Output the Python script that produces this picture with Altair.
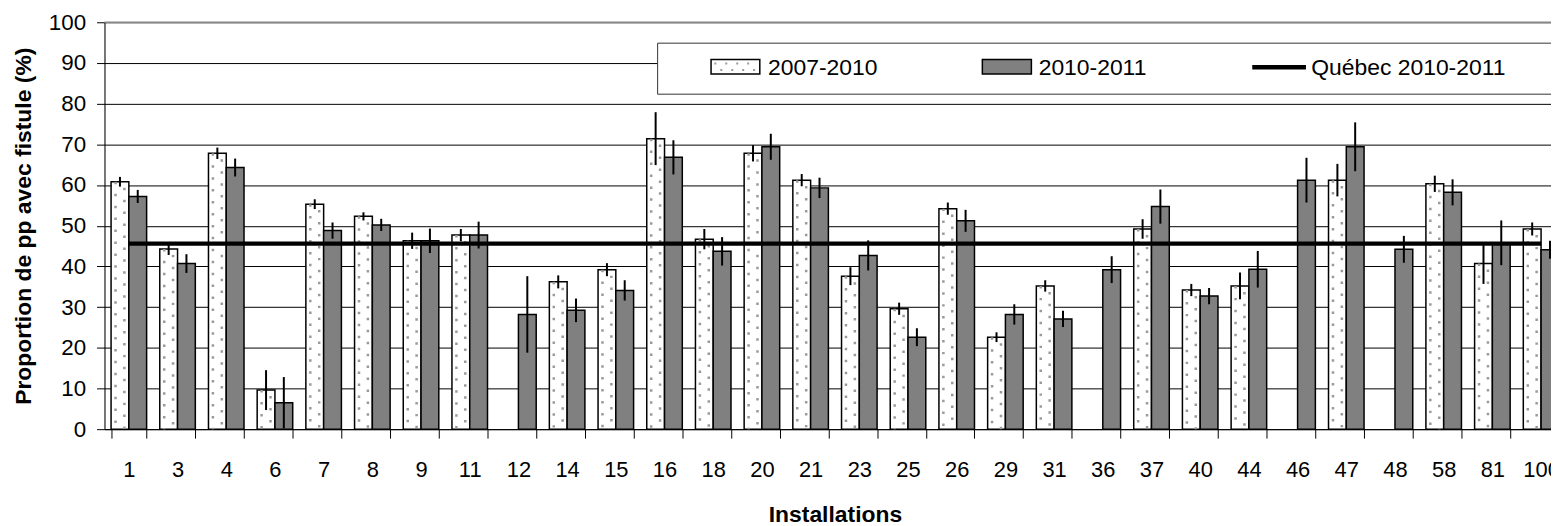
import altair as alt
import pandas as pd

CATS = ["1", "3", "4", "6", "7", "8", "9", "11", "12", "14", "15", "16", "18", "20", "21",
        "23", "25", "26", "29", "31", "36", "37", "40", "44", "46", "47", "48", "58", "81", "100"]
SERIES = ["2007-2010", "2010-2011"]

V0710 = [60.8, 44.3, 67.8, 9.6, 55.3, 52.3, 46.3, 47.7, None, 36.2, 39.2, 71.4, 46.7, 67.8, 61.2,
         37.6, 29.6, 54.2, 22.6, 35.2, None, 49.2, 34.2, 35.2, None, 61.2, None, 60.3, 40.7, 49.2]
E0710 = [1.2, 1.5, 1.4, 4.9, 1.2, 1.0, 2.0, 1.5, None, 1.6, 1.6, 6.5, 2.5, 2.0, 1.5,
         2.2, 1.5, 1.5, 1.2, 1.4, None, 2.4, 1.5, 3.3, None, 4.0, None, 2.0, 5.0, 1.6]
V1011 = [57.2, 40.7, 64.3, 6.5, 48.8, 50.2, 46.3, 47.7, 28.2, 29.2, 34.1, 66.8, 43.7, 69.4, 59.3,
         42.7, 22.6, 51.2, 28.2, 27.1, 39.2, 54.7, 32.7, 39.3, 61.2, 69.4, 44.2, 58.2, 45.8, 44.1]
E1011 = [1.6, 2.3, 2.2, 6.3, 2.0, 1.5, 3.0, 3.3, 9.4, 2.9, 2.5, 4.2, 3.5, 3.2, 2.5,
         3.7, 2.2, 2.7, 2.5, 2.0, 3.3, 4.2, 2.0, 4.5, 5.5, 6.0, 3.3, 3.2, 5.5, 2.2]
QUEBEC = 45.6

rows = []
for i, c in enumerate(CATS):
    for s, vals, errs in [(SERIES[0], V0710, E0710), (SERIES[1], V1011, E1011)]:
        if vals[i] is None:
            continue
        rows.append(dict(cat=c, series=s, value=vals[i], lo=vals[i] - errs[i], hi=vals[i] + errs[i]))
df = pd.DataFrame(rows)
df07 = df[df.series == SERIES[0]]
qdf = pd.DataFrame({"cat": CATS, "value": [QUEBEC] * len(CATS)})
one = pd.DataFrame({"k": [0]})

FONT = "Liberation Sans"
W, H = 1454, 409      # visible plot area
XR = 1468.5           # full extent of the category axis (runs past the page edge)

xscale = alt.Scale(domain=CATS, range=[0, XR], paddingInner=0.27, paddingOuter=0.135)
xaxis = alt.Axis(title="Installations", labelAngle=0, tickBand="extent", tickSize=9,
                 tickColor="black", domainColor="black", labelFont=FONT, labelFontSize=22,
                 labelColor="black", labelBaseline="alphabetic", labelPadding=39,
                 titleFont=FONT, titleFontSize=23, titleFontWeight="bold", titleColor="black",
                 titleX=XR / 2, titleY=93, titleBaseline="alphabetic", grid=False)
yscale = alt.Scale(domain=[0, 100], nice=False)
yaxis = alt.Axis(title="Proportion de pp avec fistule (%)", values=list(range(0, 101, 10)),
                 tickSize=8, tickColor="black", domainColor="black", labelFont=FONT,
                 labelFontSize=22.5, labelColor="black", labelPadding=11,
                 gridColor="black", gridWidth=1, gridOpacity=1,
                 titleFont=FONT, titleFontSize=23, titleFontWeight="bold", titleColor="black",
                 titleX=-74, titleY=H / 2, titleAngle=-90, titleBaseline="alphabetic")


def X(bp=None):
    if bp is None:
        return alt.X("cat:N", sort=CATS, scale=xscale, axis=xaxis)
    return alt.X("cat:N", sort=CATS, scale=xscale, axis=xaxis, bandPosition=bp)


xoff = alt.XOffset("series:N", scale=alt.Scale(domain=SERIES, paddingInner=0, paddingOuter=0))

bars = alt.Chart(df).mark_bar(stroke="black", strokeWidth=1.5).encode(
    x=X(), xOffset=xoff,
    y=alt.Y("value:Q", scale=yscale, axis=yaxis),
    color=alt.Color("series:N", scale=alt.Scale(domain=SERIES, range=["white", "#808080"]), legend=None),
)

dots1 = alt.Chart(df07).mark_rule(color="#9a9a9a", strokeWidth=2.5, strokeDash=[2.5, 9.5], strokeCap="butt").encode(
    x=X(0.125), y=alt.Y("value:Q", scale=yscale, axis=yaxis), y2=alt.datum(0))
dots2 = alt.Chart(df07).mark_rule(color="#9a9a9a", strokeWidth=2.5, strokeDash=[2.5, 9.5],
                                  strokeDashOffset=6, strokeCap="butt").encode(
    x=X(0.375), y=alt.Y("value:Q", scale=yscale, axis=yaxis), y2=alt.datum(0))

err = alt.Chart(df).mark_rule(color="black", strokeWidth=2).encode(
    x=X(), xOffset=xoff, y=alt.Y("lo:Q", scale=yscale, axis=yaxis), y2="hi:Q")

qline = alt.Chart(qdf).mark_line(color="black", strokeWidth=4.5).encode(
    x=X(), y=alt.Y("value:Q", scale=yscale, axis=yaxis))

top = alt.Chart(one).mark_rule(color="#888888", strokeWidth=1.5).encode(
    y=alt.datum(100), x=alt.value(0), x2=alt.value(XR))

box = alt.Chart(one).mark_rect(fill="white", stroke="#333333", strokeWidth=1).encode(
    x=alt.value(556), x2=alt.value(XR + 20), y=alt.value(21), y2=alt.value(72.3))

sym1 = alt.Chart(one).mark_rect(fill="white", stroke="black", strokeWidth=1.5).encode(
    x=alt.value(609.7), x2=alt.value(658.7), y=alt.value(37.5), y2=alt.value(52))
sym1d1 = alt.Chart(one).mark_rule(color="#9a9a9a", strokeWidth=2, strokeDash=[2, 9]).encode(
    x=alt.value(613), x2=alt.value(656), y=alt.value(41.5))
sym1d2 = alt.Chart(one).mark_rule(color="#9a9a9a", strokeWidth=2, strokeDash=[2, 9], strokeDashOffset=5).encode(
    x=alt.value(613), x2=alt.value(656), y=alt.value(48))
sym2 = alt.Chart(one).mark_rect(fill="#808080", stroke="black", strokeWidth=1.5).encode(
    x=alt.value(882.4), x2=alt.value(931.7), y=alt.value(37.5), y2=alt.value(52))
sym3 = alt.Chart(one).mark_rule(color="black", strokeWidth=4.5).encode(
    x=alt.value(1153.7), x2=alt.value(1207.7), y=alt.value(45.3))


def lt(x, s):
    return alt.Chart(one).mark_text(align="left", baseline="middle", fontSize=23, font=FONT, color="black").encode(
        x=alt.value(x), y=alt.value(46), text=alt.value(s))


chart = alt.layer(
    bars, dots1, dots2, err, qline, top, box, sym1, sym1d1, sym1d2, sym2, sym3,
    lt(667, "2007-2010"), lt(939, "2010-2011"), lt(1213, "Québec 2010-2011"),
).properties(
    width=W, height=H,
    autosize=alt.AutoSizeParams(type="none"),
    padding={"left": 97, "top": 13, "right": 0, "bottom": 98},
).configure_view(strokeWidth=0).configure(font=FONT)

chart.save("out.html", embed_options={"renderer": "svg", "actions": False})
